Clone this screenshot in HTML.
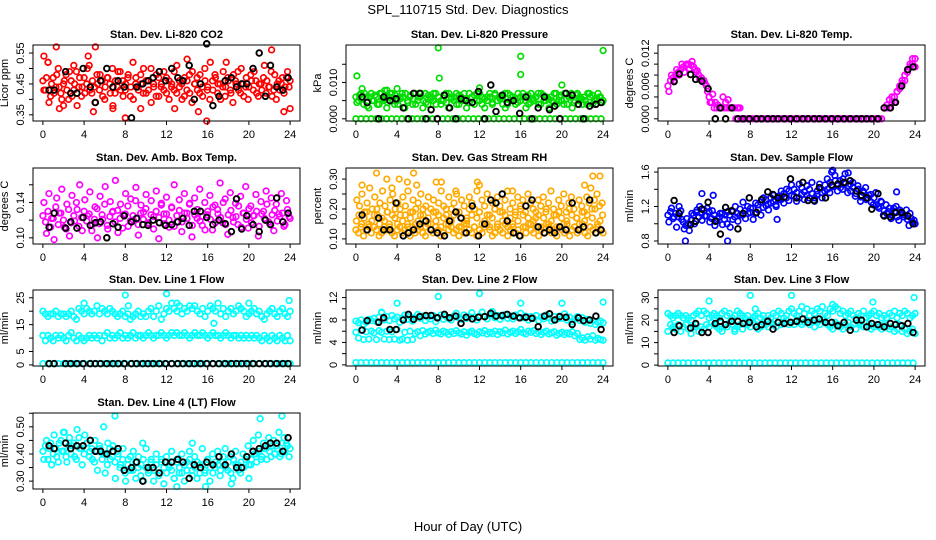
<!DOCTYPE html>
<html><head><meta charset="utf-8">
<style>
body{margin:0;background:#fff;}
svg{display:block;font-family:"Liberation Sans",sans-serif;}
</style></head>
<body>
<svg id="chart" width="936" height="540" viewBox="0 0 936 540" xmlns="http://www.w3.org/2000/svg">
<rect width="936" height="540" fill="#fff"/>
<text x="468" y="14" text-anchor="middle" font-size="13">SPL_110715  Std. Dev. Diagnostics</text>
<text x="468" y="531" text-anchor="middle" font-size="13">Hour of Day (UTC)</text>
</svg>
<script>
// ---------- shared data ----------
const xTicks = [0,4,8,12,16,20,24];
const blackT = [0.6,1.1,2.2,2.7,3.3,3.9,4.6,5.1,5.6,6.2,6.8,7.3,7.9,8.6,9.1,9.7,10.2,10.7,11.3,11.9,12.5,13.1,13.6,14.2,14.7,15.3,15.9,16.5,17.1,17.7,18.3,18.8,19.3,19.8,20.4,21.0,21.6,22.1,22.7,23.3,23.8];

// CO2
const co2A = [0.46,0.43,0.52,0.41,0.47,0.44,0.50,0.42,0.45,0.48,0.40,0.46,0.43,0.49,0.44,0.41,0.47,0.45,0.51,0.42,0.44,0.48,0.43,0.46,0.40,0.47,0.45,0.50,0.42,0.44,0.49,0.46,0.43,0.47,0.41,0.52,0.45,0.44,0.48,0.42,0.46,0.43,0.50,0.45,0.41,0.47,0.44,0.49,0.42,0.46,0.45,0.43,0.51,0.44,0.40,0.47,0.46,0.42,0.49,0.45,0.43,0.48,0.41,0.46,0.44,0.52,0.43,0.47,0.45,0.40,0.49,0.44,0.46,0.42,0.48,0.45,0.43,0.50,0.41,0.47,0.44,0.46,0.49,0.42,0.45,0.43,0.51,0.46,0.44,0.41,0.48,0.45,0.43,0.47,0.44,0.49,0.46];
const co2B = [0.43,0.47,0.39,0.45,0.42,0.48,0.44,0.40,0.46,0.43,0.49,0.41,0.45,0.38,0.47,0.44,0.42,0.50,0.43,0.46,0.39,0.45,0.48,0.41,0.44,0.47,0.42,0.38,0.46,0.49,0.43,0.41,0.45,0.48,0.44,0.40,0.47,0.43,0.45,0.50,0.42,0.46,0.39,0.44,0.48,0.41,0.45,0.43,0.47,0.40,0.44,0.49,0.42,0.46,0.45,0.41,0.43,0.48,0.39,0.45,0.47,0.42,0.44,0.50,0.43,0.40,0.46,0.48,0.42,0.45,0.44,0.41,0.47,0.43,0.39,0.46,0.49,0.42,0.45,0.44,0.40,0.48,0.43,0.46,0.41,0.45,0.47,0.42,0.44,0.49,0.43,0.40,0.46,0.45,0.42,0.47,0.44];
const co2OutH = [0.1,0.5,1.3,1.6,3.0,4.4,5.1,4.9,6.8,8.0,9.5,12.8,15.1,15.9,17.8,22.2,23.4,24.0,2.0,14.0];
const co2OutV = [0.54,0.52,0.57,0.37,0.51,0.54,0.57,0.36,0.37,0.34,0.37,0.37,0.36,0.33,0.52,0.56,0.36,0.37,0.38,0.53];
const co2Black = [0.43,0.43,0.49,0.42,0.42,0.50,0.44,0.39,0.46,0.50,0.44,0.46,0.44,0.34,0.44,0.45,0.46,0.47,0.49,0.46,0.50,0.47,0.46,0.51,0.40,0.45,0.58,0.38,0.41,0.46,0.47,0.44,0.45,0.45,0.50,0.55,0.41,0.51,0.44,0.43,0.47];

// Pressure
const presA = [0.006,0.005,0.007,0.004,0.006,0.003,0.007,0.005,0.006,0.004,0.007,0.005,0.003,0.006,0.007,0.004,0.005,0.006,0.007,0.003,0.005,0.006,0.004,0.007,0.005,0.006,0.003,0.007,0.004,0.006,0.005,0.007,0.006,0.004,0.005,0.007,0.003,0.006,0.005,0.007,0.004,0.006,0.005,0.003,0.007,0.006,0.004,0.005,0.007,0.006,0.003,0.005,0.006,0.004,0.007,0.005,0.006,0.004,0.003,0.007,0.005,0.006,0.004,0.007,0.005,0.006,0.003,0.004,0.007,0.005,0.006,0.004,0.007,0.005,0.006,0.003,0.005,0.007,0.004,0.006,0.005,0.007,0.004,0.006,0.003,0.005,0.007,0.006,0.004,0.005,0.007,0.006,0.004,0.005,0.007,0.006,0.005];
const presB = [0.0045,0.0065,0.0055,0.007,0.0035,0.006,0.005,0.0065,0.004,0.007,0.0055,0.006,0.0045,0.007,0.005,0.0065,0.004,0.0055,0.006,0.007,0.0045,0.0065,0.0055,0.004,0.006,0.007,0.005,0.0045,0.0065,0.0055,0.007,0.004,0.006,0.005,0.0065,0.0045,0.007,0.0055,0.006,0.004,0.0065,0.005,0.007,0.0055,0.0045,0.006,0.0065,0.007,0.005,0.004,0.0055,0.006,0.007,0.0045,0.0065,0.005,0.0055,0.006,0.007,0.004,0.0065,0.005,0.0055,0.0045,0.006,0.007,0.005,0.0065,0.0045,0.0055,0.006,0.007,0.004,0.0065,0.005,0.0055,0.006,0.0045,0.007,0.005,0.0065,0.004,0.0055,0.006,0.007,0.0045,0.0065,0.005,0.0055,0.006,0.004,0.007,0.0065,0.005,0.0055,0.006,0.0045];
const presBase = [0,0,0,0,0,0,0,0,0,0,0,0,0,0,0,0,0,0,0,0,0,0,0,0,0,0,0,0,0,0,0,0,0,0,0,0,0,0,0,0,0,0,0,0,0,0,0,0,0];
const presOutH = [0.1,0.6,4.0,2.8,8.0,8.1,16.0,16.0,20.0,24.0,12.0,3.0];
const presOutV = [0.0118,0.0083,0.0083,0.0078,0.0195,0.0112,0.0172,0.0122,0.0093,0.0188,0.0085,0.0079];
const presBlack = [0.006,0.0045,0,0.006,0.005,0.0055,0.003,0,0.007,0.007,0,0.0025,0,0.0065,0.003,0,0.0055,0.005,0.0045,0.0075,0,0.0093,0.002,0.0065,0.0045,0.005,0.0015,0.006,0,0.003,0.006,0.0025,0.0035,0,0.007,0.0065,0.004,0,0.0035,0.004,0.0045];

// Li-820 temp
const tempA = [0.006,0.007,0.0075,0.008,0.0085,0.009,0.0095,0.0098,0.010,0.0098,0.0095,0.0085,0.008,0.0075,0.007,0.006,0.004,0.003,0.002,0.002,0.002,0.002,0.002,0.002,0.002,0.002,0.002,0.002,0.002,
0,0,0,0,0,0,0,0,0,0, 0,0,0,0,0,0,0,0,0,0, 0,0,0,0,0,0,0,0,0,0, 0,0,0,0,0,0,0,0,0,0, 0,0,0,0,0,0,0,0,0,0, 0,0,0,0,0,
0.002,0.002,0.002,0.003,0.004,0.005,0.006,0.007,0.008,0.009,0.010,0.011,0.011];
const tempB1 = [0.005,0.008,0.007,0.009,0.008,0.010,0.0085,0.010,0.0092,0.0105,0.009,0.0088,0.0072,0.0068,0.0065,0.005,0.003,0.0045,0.003,0.0025,0.002,0.004,0.003,0.0035,0.002,0.002,0.000,0.002,0.000];
const tempB2 = [0.002,0.0025,0.0035,0.004,0.003,0.005,0.0055,0.0065,0.007,0.0085,0.0095,0.010,0.0095];
const tempBlack = [0.0068,0.0082,0.0081,0.0072,0.0069,0.0055,0,0.002,0,0.002,0,0,0,0,0,0,0,0,0,0,0,0,0,0,0,0,0,0,0,0,0,0,0,0,0,0.002,0.002,0.003,0.006,0.009,0.0095];

// Amb box temp
const ambA = [0.125,0.118,0.130,0.112,0.122,0.135,0.115,0.128,0.120,0.110,0.132,0.117,0.125,0.140,0.113,0.123,0.130,0.119,0.127,0.108,0.121,0.133,0.116,0.126,0.138,0.114,0.124,0.129,0.118,0.131,0.122,0.111,0.127,0.136,0.119,0.125,0.142,0.115,0.128,0.121,0.133,0.117,0.126,0.110,0.130,0.123,0.137,0.116,0.127,0.120,0.134,0.113,0.125,0.131,0.118,0.128,0.122,0.139,0.114,0.126,0.132,0.119,0.124,0.109,0.130,0.121,0.135,0.117,0.127,0.123,0.140,0.115,0.126,0.131,0.118,0.124,0.136,0.112,0.128,0.121,0.133,0.117,0.125,0.130,0.113,0.127,0.122,0.138,0.116,0.126,0.131,0.119,0.124,0.128,0.115,0.132,0.122];
const ambB = [0.140,0.105,0.150,0.122,0.098,0.145,0.128,0.155,0.112,0.138,0.102,0.148,0.119,0.132,0.160,0.108,0.143,0.125,0.152,0.115,0.135,0.100,0.147,0.121,0.158,0.110,0.141,0.130,0.165,0.106,0.138,0.126,0.150,0.113,0.144,0.120,0.157,0.103,0.137,0.129,0.149,0.116,0.142,0.124,0.153,0.099,0.139,0.127,0.146,0.112,0.135,0.160,0.118,0.143,0.107,0.150,0.128,0.138,0.101,0.145,0.122,0.155,0.114,0.140,0.126,0.148,0.109,0.137,0.132,0.162,0.117,0.144,0.104,0.151,0.123,0.139,0.115,0.147,0.128,0.158,0.111,0.136,0.125,0.149,0.102,0.141,0.130,0.153,0.118,0.145,0.108,0.138,0.127,0.150,0.113,0.142,0.124];
const ambBlack = [0.112,0.128,0.111,0.118,0.111,0.123,0.114,0.117,0.118,0.100,0.116,0.112,0.125,0.118,0.122,0.115,0.114,0.120,0.117,0.114,0.115,0.118,0.122,0.114,0.130,0.130,0.123,0.115,0.120,0.116,0.107,0.144,0.110,0.125,0.115,0.107,0.120,0.115,0.145,0.118,0.128];

// Gas stream RH
const rhA = [0.13,0.12,0.14,0.11,0.13,0.15,0.12,0.14,0.13,0.11,0.12,0.14,0.13,0.15,0.12,0.11,0.13,0.14,0.12,0.13,0.15,0.11,0.14,0.12,0.13,0.14,0.12,0.11,0.15,0.13,0.12,0.14,0.13,0.11,0.12,0.15,0.13,0.14,0.12,0.13,0.11,0.14,0.12,0.15,0.13,0.12,0.14,0.11,0.13,0.12,0.14,0.15,0.13,0.11,0.12,0.14,0.13,0.12,0.15,0.11,0.13,0.14,0.12,0.13,0.11,0.14,0.12,0.15,0.13,0.12,0.14,0.11,0.13,0.12,0.15,0.14,0.12,0.13,0.11,0.14,0.13,0.12,0.15,0.11,0.13,0.14,0.12,0.13,0.15,0.12,0.11,0.14,0.13,0.12,0.14,0.13,0.12];
const rhB = [0.23,0.21,0.25,0.19,0.22,0.27,0.20,0.24,0.18,0.22,0.26,0.21,0.19,0.23,0.25,0.20,0.22,0.18,0.24,0.21,0.26,0.19,0.23,0.20,0.22,0.25,0.18,0.21,0.24,0.20,0.23,0.19,0.22,0.26,0.21,0.18,0.24,0.20,0.22,0.25,0.19,0.23,0.21,0.17,0.24,0.22,0.20,0.26,0.19,0.23,0.21,0.25,0.18,0.22,0.20,0.24,0.21,0.19,0.23,0.26,0.20,0.22,0.18,0.24,0.21,0.23,0.19,0.25,0.22,0.20,0.17,0.23,0.21,0.24,0.19,0.22,0.26,0.20,0.18,0.23,0.21,0.25,0.19,0.22,0.24,0.20,0.17,0.23,0.21,0.19,0.24,0.22,0.20,0.23,0.25,0.21,0.22];
const rhC = [0.16,0.18,0.15,0.17,0.19,0.14,0.16,0.18,0.20,0.15,0.17,0.16,0.19,0.14,0.18,0.17,0.15,0.20,0.16,0.18,0.14,0.17,0.19,0.15,0.16,0.18,0.20,0.14,0.17,0.15,0.19,0.16,0.18,0.14,0.17,0.20,0.15,0.16,0.18,0.19,0.14,0.17,0.15,0.16,0.20,0.18,0.14,0.17,0.19,0.15,0.16,0.18,0.14,0.17,0.20,0.15,0.19,0.16,0.18,0.14,0.17,0.15,0.19,0.16,0.20,0.18,0.14,0.17,0.15,0.16,0.19,0.18,0.14,0.17,0.20,0.15,0.16,0.18,0.14,0.19,0.17,0.15,0.16,0.20,0.18,0.14,0.17,0.15,0.19,0.16,0.18,0.14,0.17,0.20,0.15,0.16,0.18];
const rhOutH = [0.6,2.0,3.0,4.2,5.0,5.6,7.8,8.3,9.7,11.8,15.2,22.2,22.8,23.0,23.7,3.5,5.9,12.0];
const rhOutV = [0.28,0.32,0.30,0.30,0.29,0.32,0.29,0.29,0.26,0.29,0.26,0.28,0.27,0.31,0.31,0.27,0.28,0.28];
const rhBlack = [0.18,0.13,0.17,0.13,0.13,0.22,0.11,0.12,0.13,0.15,0.16,0.13,0.12,0.11,0.16,0.19,0.17,0.12,0.21,0.11,0.15,0.23,0.22,0.25,0.16,0.12,0.11,0.21,0.23,0.14,0.12,0.13,0.12,0.14,0.13,0.22,0.13,0.14,0.23,0.12,0.13];

// Sample flow
const sfA = [1.10,1.14,1.06,1.12,1.08,1.15,1.02,0.98,1.00,1.04,1.10,1.13,1.08,1.12,1.16,1.09,1.14,1.06,1.10,1.03,1.08,1.12,1.05,1.00,1.10,1.14,1.08,1.12,1.17,1.10,1.15,1.20,1.13,1.18,1.12,1.22,1.25,1.19,1.28,1.23,1.30,1.26,1.22,1.32,1.28,1.35,1.30,1.38,1.33,1.40,1.36,1.30,1.42,1.37,1.33,1.40,1.35,1.30,1.38,1.42,1.36,1.45,1.40,1.48,1.43,1.50,1.46,1.42,1.52,1.47,1.44,1.38,1.42,1.35,1.40,1.31,1.36,1.28,1.33,1.25,1.30,1.22,1.18,1.25,1.15,1.12,1.18,1.10,1.14,1.08,1.16,1.12,1.10,1.05,1.12,1.02,1.00];
const sfB = [1.02,1.18,1.08,0.96,1.20,1.05,0.94,1.06,0.92,1.12,1.00,1.16,1.20,1.04,1.09,1.18,1.02,1.15,0.98,1.06,1.12,0.99,1.10,1.14,0.96,1.05,1.20,1.03,1.10,1.25,1.06,1.12,1.18,1.05,1.24,1.16,1.10,1.30,1.21,1.16,1.24,1.33,1.20,1.28,1.38,1.24,1.40,1.27,1.45,1.32,1.26,1.46,1.34,1.28,1.44,1.30,1.48,1.26,1.34,1.46,1.30,1.38,1.52,1.36,1.44,1.56,1.38,1.50,1.40,1.58,1.36,1.46,1.48,1.32,1.44,1.26,1.38,1.42,1.30,1.34,1.22,1.36,1.20,1.26,1.10,1.22,1.14,1.06,1.18,1.20,1.04,1.14,1.08,1.16,0.98,1.06,1.04];
const sfOutH = [1.7,5.8,3.3,4.4,16.0,17.5,22.2,10.6,15.9];
const sfOutV = [0.80,0.80,1.35,1.33,1.62,1.59,1.37,1.05,1.60];
const sfBlack = [1.27,1.12,0.99,1.03,1.17,1.25,1.03,0.88,1.19,1.15,0.94,1.12,1.30,1.13,1.28,1.37,1.34,1.30,1.31,1.52,1.30,1.48,1.27,1.27,1.42,1.30,1.45,1.46,1.48,1.50,1.38,1.33,1.30,1.17,1.35,1.09,1.08,1.13,1.13,1.09,1.00];

// Line 1 flow
const l1Up = [20,19,18,19,19,20,18,19,19,18,19,20,18,17,21,20,19,21,20,19,20,22,19,21,20,19,21,20,19,18,19,20,18,19,17,18,19,20,18,19,18,20,21,18,20,22,17,19,21,20,23,21,20,22,19,21,20,22,21,22,20,19,21,18,20,22,21,20,23,19,21,18,20,21,19,20,22,21,20,18,19,20,21,19,20,18,17,19,20,21,19,18,20,21,19,18,20];
const l1Mid = [11,9,11,10,9,11,10,11,10,9,11,12,10,9,11,10,9,10,11,10,11,10,11,9,11,12,10,11,10,11,12,10,11,10,11,12,10,11,11,10,11,12,11,10,11,11,12,11,10,11,12,11,12,11,11,12,11,10,11,12,11,11,12,11,10,11,12,11,11,10,11,12,11,10,11,11,10,11,10,11,10,11,10,11,10,9,11,10,9,11,10,9,11,10,9,11,9];
const l1Base = [0.5,0.5,0.5,0.5,0.5,0.5,0.5,0.5,0.5,0.5,0.5,0.5,0.5,0.5,0.5,0.5,0.5,0.5,0.5,0.5,0.5,0.5,0.5,0.5,0.5,0.5,0.5,0.5,0.5,0.5,0.5,0.5,0.5,0.5,0.5,0.5,0.5,0.5,0.5,0.5,0.5,0.5,0.5,0.5,0.5,0.5,0.5,0.5,0.5];
const l1OutH = [8.0,12.0,4.0,23.9,8.3,13.0,16.6,20.0];
const l1OutV = [26,26.5,23,24,22,23,15.5,23];
const l1Black = [0.5,0.5,0.5,0.5,0.5,0.5,0.5,0.5,0.5,0.5,0.5,0.5,0.5,0.5,0.5,0.5,0.5,0.5,0.5,0.5,0.5,0.5,0.5,0.5,0.5,0.5,0.5,0.5,0.5,0.5,0.5,0.5,0.5,0.5,0.5,0.5,0.5,0.5,0.5,0.5,0.5];

// Line 2 flow
const l2Up = [7.8,7.5,8.0,7.2,7.6,8.1,7.9,8.3,7.7,8.5,9.3,8.0,8.6,7.9,8.8,8.2,8.5,7.6,8.3,8.9,8.1,8.6,7.8,8.4,9.0,8.3,8.7,7.9,8.5,8.2,8.8,7.7,8.4,8.9,8.1,8.6,8.3,8.0,8.7,9.2,8.4,8.1,8.9,8.3,8.6,9.3,8.5,8.0,8.7,9.4,8.6,8.2,8.9,9.5,8.4,8.8,8.1,8.6,9.0,8.3,8.7,8.2,8.9,8.5,9.2,8.4,8.7,8.0,8.6,8.3,8.8,7.9,8.5,8.2,8.9,8.4,7.8,8.6,8.1,8.7,8.3,9.1,8.0,8.5,7.7,8.2,8.6,7.9,8.4,7.6,8.1,7.4,7.9,7.2,7.6,7.8,7.5];
const l2Mid = [5.8,4.8,6.2,4.5,5.9,4.6,6.0,5.7,4.5,6.1,5.8,4.6,6.0,4.5,5.9,4.6,6.3,4.4,4.6,5.8,4.4,6.0,4.5,5.6,5.9,5.2,6.1,5.5,5.8,6.0,5.6,6.2,5.7,5.5,6.0,5.8,5.4,5.9,5.6,6.1,5.7,5.5,5.9,5.3,5.8,6.0,5.6,5.4,5.9,5.7,6.1,5.5,5.8,5.6,6.0,5.4,5.9,5.7,6.2,5.5,5.8,6.0,5.6,5.9,6.3,5.7,5.5,6.0,5.8,6.1,5.6,5.9,5.4,5.8,6.0,5.5,5.7,5.9,5.3,5.6,5.8,5.4,5.7,5.5,5.9,5.2,5.6,4.5,4.8,4.4,5.0,4.6,5.2,4.4,4.7,4.5,4.4];
const l2Base = [0.4,0.4,0.4,0.4,0.4,0.4,0.4,0.4,0.4,0.4,0.4,0.4,0.4,0.4,0.4,0.4,0.4,0.4,0.4,0.4,0.4,0.4,0.4,0.4,0.4,0.4,0.4,0.4,0.4,0.4,0.4,0.4,0.4,0.4,0.4,0.4,0.4,0.4,0.4,0.4,0.4,0.4,0.4,0.4,0.4,0.4,0.4,0.4,0.4];
const l2OutH = [4.0,8.0,12.0,16.0,20.0,24.0,2.5];
const l2OutV = [11,12.2,12.7,11,11,11.2,9.4];
const l2Black = [6.2,7.9,7.6,8.4,6.3,6.3,8.0,9.0,8.1,8.6,8.8,8.8,8.4,9.0,8.4,8.7,7.4,8.5,8.2,8.5,8.6,9.2,8.7,8.8,9.0,8.7,8.4,8.5,8.3,6.8,8.7,9.1,8.0,8.6,8.5,7.2,8.4,7.9,8.0,8.7,6.3];

// Line 3 flow
const l3Up = [23,22,21,22,23,22,21,22,21,20,22,23,24,22,24,23,21,22,23,22,21,23,24,22,23,21,22,24,23,22,21,22,20,21,22,23,21,22,20,22,21,23,22,24,23,21,22,24,25,23,22,24,26,23,25,22,24,23,25,24,26,23,22,25,24,26,25,23,24,22,23,24,22,21,23,22,24,21,22,23,24,22,23,21,22,21,23,22,24,21,23,22,24,23,21,22,23];
const l3Mid = [15,18,17,16,18,15,17,18,16,14,17,18,15,17,16,18,17,19,18,17,16,15,18,17,19,18,16,17,18,16,19,18,17,19,18,16,17,19,18,17,19,18,17,19,18,19,20,18,19,18,20,19,18,19,20,18,19,17,19,18,20,19,18,17,16,19,18,17,16,18,19,17,18,16,19,18,17,19,18,16,17,18,17,16,18,17,16,17,15,16,18,15,16,14,15,16,14];
const l3Base = [1,1,1,1,1,1,1,1,1,1,1,1,1,1,1,1,1,1,1,1,1,1,1,1,1,1,1,1,1,1,1,1,1,1,1,1,1,1,1,1,1,1,1,1,1,1,1,1,1];
const l3OutH = [4.0,8.0,12.0,19.9,23.9,8.5,16.0,6.5];
const l3OutV = [28.5,31,31,28,30,25,27,15];
const l3Black = [14.5,17.5,16.5,18.5,14.5,14.5,18.5,19.5,18.0,19.5,19.5,18.5,19.0,17.0,18.0,19.5,16.0,19.0,18.5,19.0,19.5,20.5,19.0,20.0,20.5,19.0,19.0,17.5,19.0,15.5,20.0,20.0,17.0,18.5,18.0,17.0,18.5,18.0,17.5,18.5,14.5];

// Line 4 flow
const l4A = [0.41,0.43,0.38,0.44,0.40,0.42,0.37,0.45,0.41,0.39,0.43,0.40,0.44,0.38,0.46,0.42,0.40,0.44,0.39,0.42,0.37,0.41,0.43,0.38,0.40,0.36,0.42,0.39,0.37,0.41,0.35,0.38,0.33,0.36,0.39,0.34,0.37,0.35,0.32,0.38,0.35,0.33,0.37,0.34,0.36,0.32,0.38,0.35,0.33,0.36,0.34,0.31,0.37,0.35,0.33,0.36,0.34,0.38,0.32,0.35,0.37,0.33,0.36,0.34,0.38,0.35,0.33,0.37,0.36,0.34,0.39,0.35,0.37,0.33,0.38,0.36,0.34,0.37,0.35,0.39,0.36,0.38,0.40,0.37,0.41,0.39,0.42,0.38,0.41,0.43,0.40,0.42,0.39,0.44,0.41,0.43,0.42];
const l4B = [0.38,0.45,0.42,0.36,0.47,0.39,0.44,0.41,0.48,0.37,0.46,0.43,0.39,0.49,0.42,0.36,0.47,0.44,0.41,0.38,0.45,0.34,0.42,0.40,0.33,0.44,0.38,0.43,0.31,0.40,0.36,0.42,0.30,0.38,0.34,0.41,0.31,0.39,0.36,0.30,0.42,0.34,0.38,0.30,0.40,0.33,0.37,0.29,0.39,0.35,0.41,0.31,0.38,0.33,0.40,0.30,0.37,0.41,0.34,0.39,0.31,0.36,0.42,0.33,0.38,0.30,0.40,0.35,0.41,0.32,0.37,0.42,0.34,0.39,0.31,0.41,0.36,0.33,0.40,0.38,0.43,0.36,0.45,0.40,0.47,0.38,0.44,0.42,0.46,0.39,0.45,0.43,0.48,0.40,0.46,0.44,0.39];
const l4OutH = [7.0,5.9,13.0,15.8,18.3,20.0,21.1,23.2,9.7,2.0,14.5];
const l4OutV = [0.54,0.50,0.28,0.28,0.29,0.31,0.53,0.54,0.44,0.48,0.44];
const l4Black = [0.43,0.42,0.44,0.42,0.43,0.43,0.45,0.41,0.41,0.40,0.41,0.42,0.34,0.35,0.37,0.30,0.35,0.35,0.33,0.37,0.37,0.38,0.37,0.31,0.36,0.35,0.37,0.36,0.39,0.36,0.40,0.35,0.35,0.39,0.41,0.42,0.43,0.44,0.44,0.41,0.46];

// ---------- rendering ----------
const NS = 'http://www.w3.org/2000/svg';
const svg = document.getElementById('chart');
function mk(tag, attrs, parent){
  const e = document.createElementNS(NS, tag);
  for (const k in attrs) e.setAttribute(k, attrs[k]);
  (parent||svg).appendChild(e);
  return e;
}
const W = 267, H = 76, XMIN = -0.96, XMAX = 24.96;

function panel(cfg){
  const g = mk('g', {});
  
  
  const L = cfg.left, T = cfg.top;
  const xs = h => L + (h - XMIN) / (XMAX - XMIN) * W;
  const ys = v => T + H - (v - cfg.ymin) / (cfg.ymax - cfg.ymin) * H;
  const pts = mk('g', {}, g);
  
  
  function dot(h, v, color, black){
    const c = mk('circle', {cx: xs(h).toFixed(1), cy: ys(v).toFixed(1), r: black ? 2.8 : 2.8,
      fill: 'none', stroke: color, 'stroke-width': black ? 1.9 : 1.7}, pts);
    
    
  }
  cfg.series.forEach(s => {
    const n = s.values.length;
    s.values.forEach((v, i) => dot(s.h0 + (s.h1 - s.h0) * i / Math.max(1, n - 1), v, cfg.color, false));
  });
  if (cfg.outH) cfg.outH.forEach((h, i) => dot(h, cfg.outV[i], cfg.color, false));
  cfg.black.forEach((v, i) => dot(blackT[i], v, '#000', true));

  const box = mk('rect', {x: L, y: T, width: W, height: H, fill: 'none', stroke: '#000', 'stroke-width': 1}, g);
  
  
  const xa = mk('g', {}, g);
  
  
  mk('line', {x1: xs(xTicks[0]), x2: xs(xTicks[xTicks.length-1]), y1: T+H, y2: T+H, stroke: '#000'}, xa);
  xTicks.forEach(t => {
    mk('line', {x1: xs(t), x2: xs(t), y1: T+H, y2: T+H+4, stroke: '#000'}, xa);
    const tx = mk('text', {x: xs(t), y: T+H+17, 'text-anchor': 'middle', 'font-size': 11}, xa);
    tx.textContent = t;
    
    
  });
  const ya = mk('g', {}, g);
  
  
  mk('line', {x1: L, x2: L, y1: ys(cfg.yticks[0]), y2: ys(cfg.yticks[cfg.yticks.length-1]), stroke: '#000'}, ya);
  cfg.yticks.forEach(t => mk('line', {x1: L-4, x2: L, y1: ys(t), y2: ys(t), stroke: '#000'}, ya));
  cfg.ylabels.forEach((lab, i) => {
    const y = ys(cfg.ylabelVals[i]);
    const tx = mk('text', {x: L-12, y: y, 'text-anchor': 'middle', 'dominant-baseline': 'central', 'font-size': 11,
      transform: `rotate(-90 ${L-12} ${y})`}, ya);
    tx.textContent = lab;
    
    
  });
  const yl = mk('text', {x: L-25, y: T+H/2, 'text-anchor': 'middle', 'font-size': 11,
    transform: `rotate(-90 ${L-25} ${T+H/2})`}, g);
  yl.textContent = cfg.ylab;
  
  
  const tt = mk('text', {x: L+W/2, y: T-7, 'text-anchor': 'middle', 'font-size': 11, 'font-weight': 'bold'}, g);
  tt.textContent = cfg.title;
  
  
}

const C1 = 33, C2 = 346, C3 = 658, R1 = 45, R2 = 168, R3 = 290, R4 = 413;

panel({name:'co2', left:C1, top:R1, ymin:0.330, ymax:0.576, color:'#ff0000',
  title:'Stan. Dev. Li-820 CO2', ylab:'Licor ppm',
  yticks:[0.35,0.40,0.45,0.50,0.55], ylabelVals:[0.35,0.45,0.55], ylabels:['0.35','0.45','0.55'],
  series:[{h0:0,h1:24,values:co2A},{h0:0.1,h1:23.9,values:co2B}], outH:co2OutH, outV:co2OutV, black:co2Black});

panel({name:'pressure', left:C2, top:R1, ymin:-0.0006, ymax:0.0203, color:'#00dd00',
  title:'Stan. Dev. Li-820 Pressure', ylab:'kPa',
  yticks:[0,0.005,0.010,0.015], ylabelVals:[0,0.010], ylabels:['0.000','0.010'],
  series:[{h0:0,h1:24,values:presA},{h0:0.1,h1:23.9,values:presB},{h0:0,h1:23.8,values:presBase}],
  outH:presOutH, outV:presOutV, black:presBlack});

panel({name:'li820-temp', left:C3, top:R1, ymin:-0.0004, ymax:0.0135, color:'#ff00ff',
  title:'Stan. Dev. Li-820 Temp.', ylab:'degrees C',
  yticks:[0,0.002,0.004,0.006,0.008,0.010,0.012], ylabelVals:[0,0.006,0.012], ylabels:['0.000','0.006','0.012'],
  series:[{h0:0,h1:24,values:tempA},{h0:0.1,h1:7.1,values:tempB1},{h0:21,h1:24,values:tempB2}],
  black:tempBlack});

panel({name:'amb-box-temp', left:C1, top:R2, ymin:0.093, ymax:0.179, color:'#ff00ff',
  title:'Stan. Dev. Amb. Box Temp.', ylab:'degrees C',
  yticks:[0.10,0.12,0.14,0.16], ylabelVals:[0.10,0.14], ylabels:['0.10','0.14'],
  series:[{h0:0,h1:24,values:ambA},{h0:0.1,h1:23.9,values:ambB}], black:ambBlack});

panel({name:'gas-stream-rh', left:C2, top:R2, ymin:0.083, ymax:0.337, color:'#ffaa00',
  title:'Stan. Dev. Gas Stream RH', ylab:'percent',
  yticks:[0.10,0.15,0.20,0.25,0.30], ylabelVals:[0.10,0.20,0.30], ylabels:['0.10','0.20','0.30'],
  series:[{h0:0,h1:24,values:rhA},{h0:0.1,h1:23.9,values:rhB},{h0:0.05,h1:23.95,values:rhC}],
  outH:rhOutH, outV:rhOutV, black:rhBlack});

panel({name:'sample-flow', left:C3, top:R2, ymin:0.765, ymax:1.647, color:'#0000ff',
  title:'Stan. Dev. Sample Flow', ylab:'ml/min',
  yticks:[0.8,1.0,1.2,1.4,1.6], ylabelVals:[0.8,1.2,1.6], ylabels:['0.8','1.2','1.6'],
  series:[{h0:0,h1:24,values:sfA},{h0:0.1,h1:23.9,values:sfB}], outH:sfOutH, outV:sfOutV, black:sfBlack});

panel({name:'line1-flow', left:C1, top:R3, ymin:-0.4, ymax:27.9, color:'#00ffff',
  title:'Stan. Dev. Line 1 Flow', ylab:'ml/min',
  yticks:[0,5,10,15,20,25], ylabelVals:[0,5,15,25], ylabels:['0','5','15','25'],
  series:[{h0:0,h1:24,values:l1Up},{h0:0,h1:24,values:l1Mid},{h0:0,h1:24,values:l1Base}],
  outH:l1OutH, outV:l1OutV, black:l1Black});

panel({name:'line2-flow', left:C2, top:R3, ymin:-0.2, ymax:13.35, color:'#00ffff',
  title:'Stan. Dev. Line 2 Flow', ylab:'ml/min',
  yticks:[0,2,4,6,8,10,12], ylabelVals:[0,4,8,12], ylabels:['0','4','8','12'],
  series:[{h0:0,h1:24,values:l2Up},{h0:0,h1:24,values:l2Mid},{h0:0,h1:24,values:l2Base}],
  outH:l2OutH, outV:l2OutV, black:l2Black});

panel({name:'line3-flow', left:C3, top:R3, ymin:-0.4, ymax:33.4, color:'#00ffff',
  title:'Stan. Dev. Line 3 Flow', ylab:'ml/min',
  yticks:[0,5,10,15,20,25,30], ylabelVals:[0,10,20,30], ylabels:['0','10','20','30'],
  series:[{h0:0,h1:24,values:l3Up},{h0:0,h1:24,values:l3Mid},{h0:0,h1:23.8,values:l3Base}],
  outH:l3OutH, outV:l3OutV, black:l3Black});

panel({name:'line4-flow', left:C1, top:R4, ymin:0.271, ymax:0.551, color:'#00ffff',
  title:'Stan. Dev. Line 4 (LT) Flow', ylab:'ml/min',
  yticks:[0.30,0.35,0.40,0.45,0.50,0.55], ylabelVals:[0.30,0.40,0.50], ylabels:['0.30','0.40','0.50'],
  series:[{h0:0,h1:24,values:l4A},{h0:0.1,h1:23.9,values:l4B}], outH:l4OutH, outV:l4OutV, black:l4Black});
</script>
</body></html>
